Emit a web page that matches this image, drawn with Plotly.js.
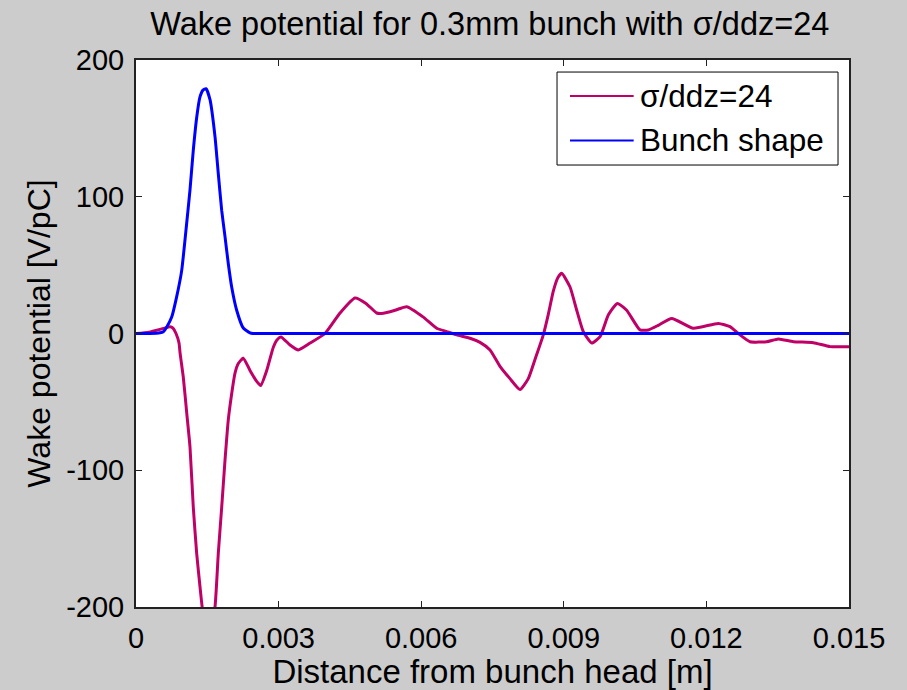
<!DOCTYPE html>
<html>
<head>
<meta charset="utf-8">
<script src="https://cdn.plot.ly/plotly-3.0.1.min.js"></script>
<style>
  html, body { margin: 0; padding: 0; background: #cccccc; }
  #chart { width: 907px; height: 690px; }
</style>
</head>
<body>
<div id="chart"></div>
<script>
// Wake potential (V/pC) against distance from bunch head (m)
const wakeX = [0, 0.000273, 0.000505, 0.000715, 0.000778, 0.000842, 0.000905, 0.000926,
  0.000995, 0.001067, 0.001136, 0.001205, 0.001277, 0.001346, 0.00141, 0.001536, 0.001662,
  0.001731, 0.001803, 0.001872, 0.001942, 0.002013, 0.002083, 0.002152, 0.002257, 0.002398,
  0.002539, 0.002623, 0.00275, 0.002889, 0.00297, 0.003051, 0.00324, 0.003414, 0.003661, 0.003976,
  0.004292, 0.004607, 0.004839, 0.005064, 0.005203, 0.005449, 0.005695, 0.006044, 0.006326,
  0.006537, 0.006747, 0.007027, 0.007237, 0.007448, 0.007658, 0.007868, 0.008079, 0.008253,
  0.008394, 0.008569, 0.008674, 0.008779, 0.008877, 0.008956, 0.009131, 0.009272, 0.009411, 0.009588,
  0.009763, 0.009936, 0.010126, 0.010323, 0.010603, 0.010778, 0.010988, 0.011271, 0.011725,
  0.01225, 0.012496, 0.012671, 0.012917, 0.013269, 0.013513, 0.013829, 0.014249, 0.014601, 0.015];
const wakeY = [0, 1, 3, 5, 4, 0, -7, -14,
  -32, -58, -83, -127, -161, -185, -205, -225, -200,
  -161, -127, -93, -63, -44, -29, -22, -18, -27,
  -35, -38, -27, -10, -4.5, -2.5, -8.4, -12, -7, 0,
  15, 26, 22, 15, 14.8, 17, 19.6, 12, 3.8,
  1.4, -1, -3.5, -6.5, -12, -24, -33, -41, -33,
  -19, -1, 14, 31, 41, 44, 34, 17, 1.3, -7,
  -2.3, 13.5, 22, 17, 2.6, 2.6, 6, 11, 3.8,
  7.4, 5, 0, -6, -6, -4, -6, -6.7, -9.6, -9.6];

// Longitudinal bunch profile on the same axis
const bunchX = [0, 0.000295, 0.000505, 0.000574, 0.00065, 0.000751, 0.000856, 0.000961,
  0.001067, 0.001136, 0.001205, 0.001277, 0.001346, 0.00141, 0.001473, 0.001557, 0.001662,
  0.001731, 0.001803, 0.001872, 0.001942, 0.002013, 0.002118, 0.002257, 0.002398, 0.00246,
  0.003, 0.006, 0.009, 0.012, 0.015];
const bunchY = [0, 0, 0.5, 1.3, 5, 12, 27, 46,
  81, 105, 134, 158, 173, 178, 179, 171, 144,
  117, 90, 71, 51, 34, 17, 4, 0.5, 0,
  0, 0, 0, 0, 0];

const seriesNames = ['σ/ddz=24', 'Bunch shape'];
const seriesColors = ['#bf0066', '#0000ff'];

const xTicks = [0, 0.003, 0.006, 0.009, 0.012, 0.015];
const xTickText = ['0', '0.003', '0.006', '0.009', '0.012', '0.015'];
const yTicks = [-200, -100, 0, 100, 200];
const yTickText = ['-200', '-100', '0', '100', '200'];

const FONT = 'Liberation Sans, Arial, sans-serif';

const traces = [
  { x: wakeX, y: wakeY, name: seriesNames[0], mode: 'lines',
    line: { color: seriesColors[0], width: 3, shape: 'spline', smoothing: 0.5 } },
  { x: bunchX, y: bunchY, name: seriesNames[1], mode: 'lines',
    line: { color: seriesColors[1], width: 3, shape: 'spline', smoothing: 0.5 } }
];

// Legend box, line samples and labels (paper coordinates of the plot area)
const legBox = { x0: 0.5905, x1: 0.9846, y0: 0.808, y1: 0.978 };
const legRows = [0.934, 0.853];
const shapes = [
  { type: 'rect', xref: 'paper', yref: 'paper', x0: legBox.x0, x1: legBox.x1, y0: legBox.y0, y1: legBox.y1,
    fillcolor: '#ffffff', line: { color: '#000000', width: 1 } }
];
const annotations = [];
seriesNames.forEach((name, i) => {
  shapes.push({ type: 'line', xref: 'paper', yref: 'paper', x0: 0.6087, x1: 0.698,
    y0: legRows[i], y1: legRows[i], line: { color: seriesColors[i], width: 2 } });
  annotations.push({ xref: 'paper', yref: 'paper', x: 0.704, y: legRows[i], xanchor: 'left',
    yanchor: 'middle', text: name, showarrow: false, font: { family: FONT, size: 31.5, color: '#000' } });
});

const layout = {
  width: 907, height: 690,
  paper_bgcolor: '#cccccc', plot_bgcolor: '#ffffff',
  margin: { l: 136, r: 58, t: 60, b: 83 },
  showlegend: false,
  title: { text: 'Wake potential for 0.3mm bunch with σ/ddz=24', x: 0.54, xanchor: 'center',
    y: 0.966, yanchor: 'middle', font: { family: FONT, size: 32.5, color: '#000' } },
  xaxis: {
    range: [0, 0.015], tickvals: xTicks, ticktext: xTickText,
    ticks: 'inside', ticklen: 6, tickwidth: 1, tickcolor: '#222',
    showline: true, linecolor: '#222', linewidth: 2, mirror: 'ticks',
    showgrid: false, zeroline: false, ticklabelstandoff: 4,
    tickfont: { family: FONT, size: 29, color: '#000' },
    title: { text: 'Distance from bunch head [m]', standoff: 0,
      font: { family: FONT, size: 33, color: '#000' } }
  },
  yaxis: {
    range: [-200, 200], tickvals: yTicks, ticktext: yTickText,
    ticks: 'inside', ticklen: 6, tickwidth: 1, tickcolor: '#222',
    showline: true, linecolor: '#222', linewidth: 2, mirror: 'ticks',
    showgrid: false, zeroline: false, ticklabelstandoff: 4,
    tickfont: { family: FONT, size: 29, color: '#000' },
    title: { text: 'Wake potential [V/pC]', standoff: 6,
      font: { family: FONT, size: 32, color: '#000' } }
  },
  shapes: shapes,
  annotations: annotations
};

Plotly.newPlot('chart', traces, layout, { displayModeBar: false, staticPlot: true });
</script>
</body>
</html>
